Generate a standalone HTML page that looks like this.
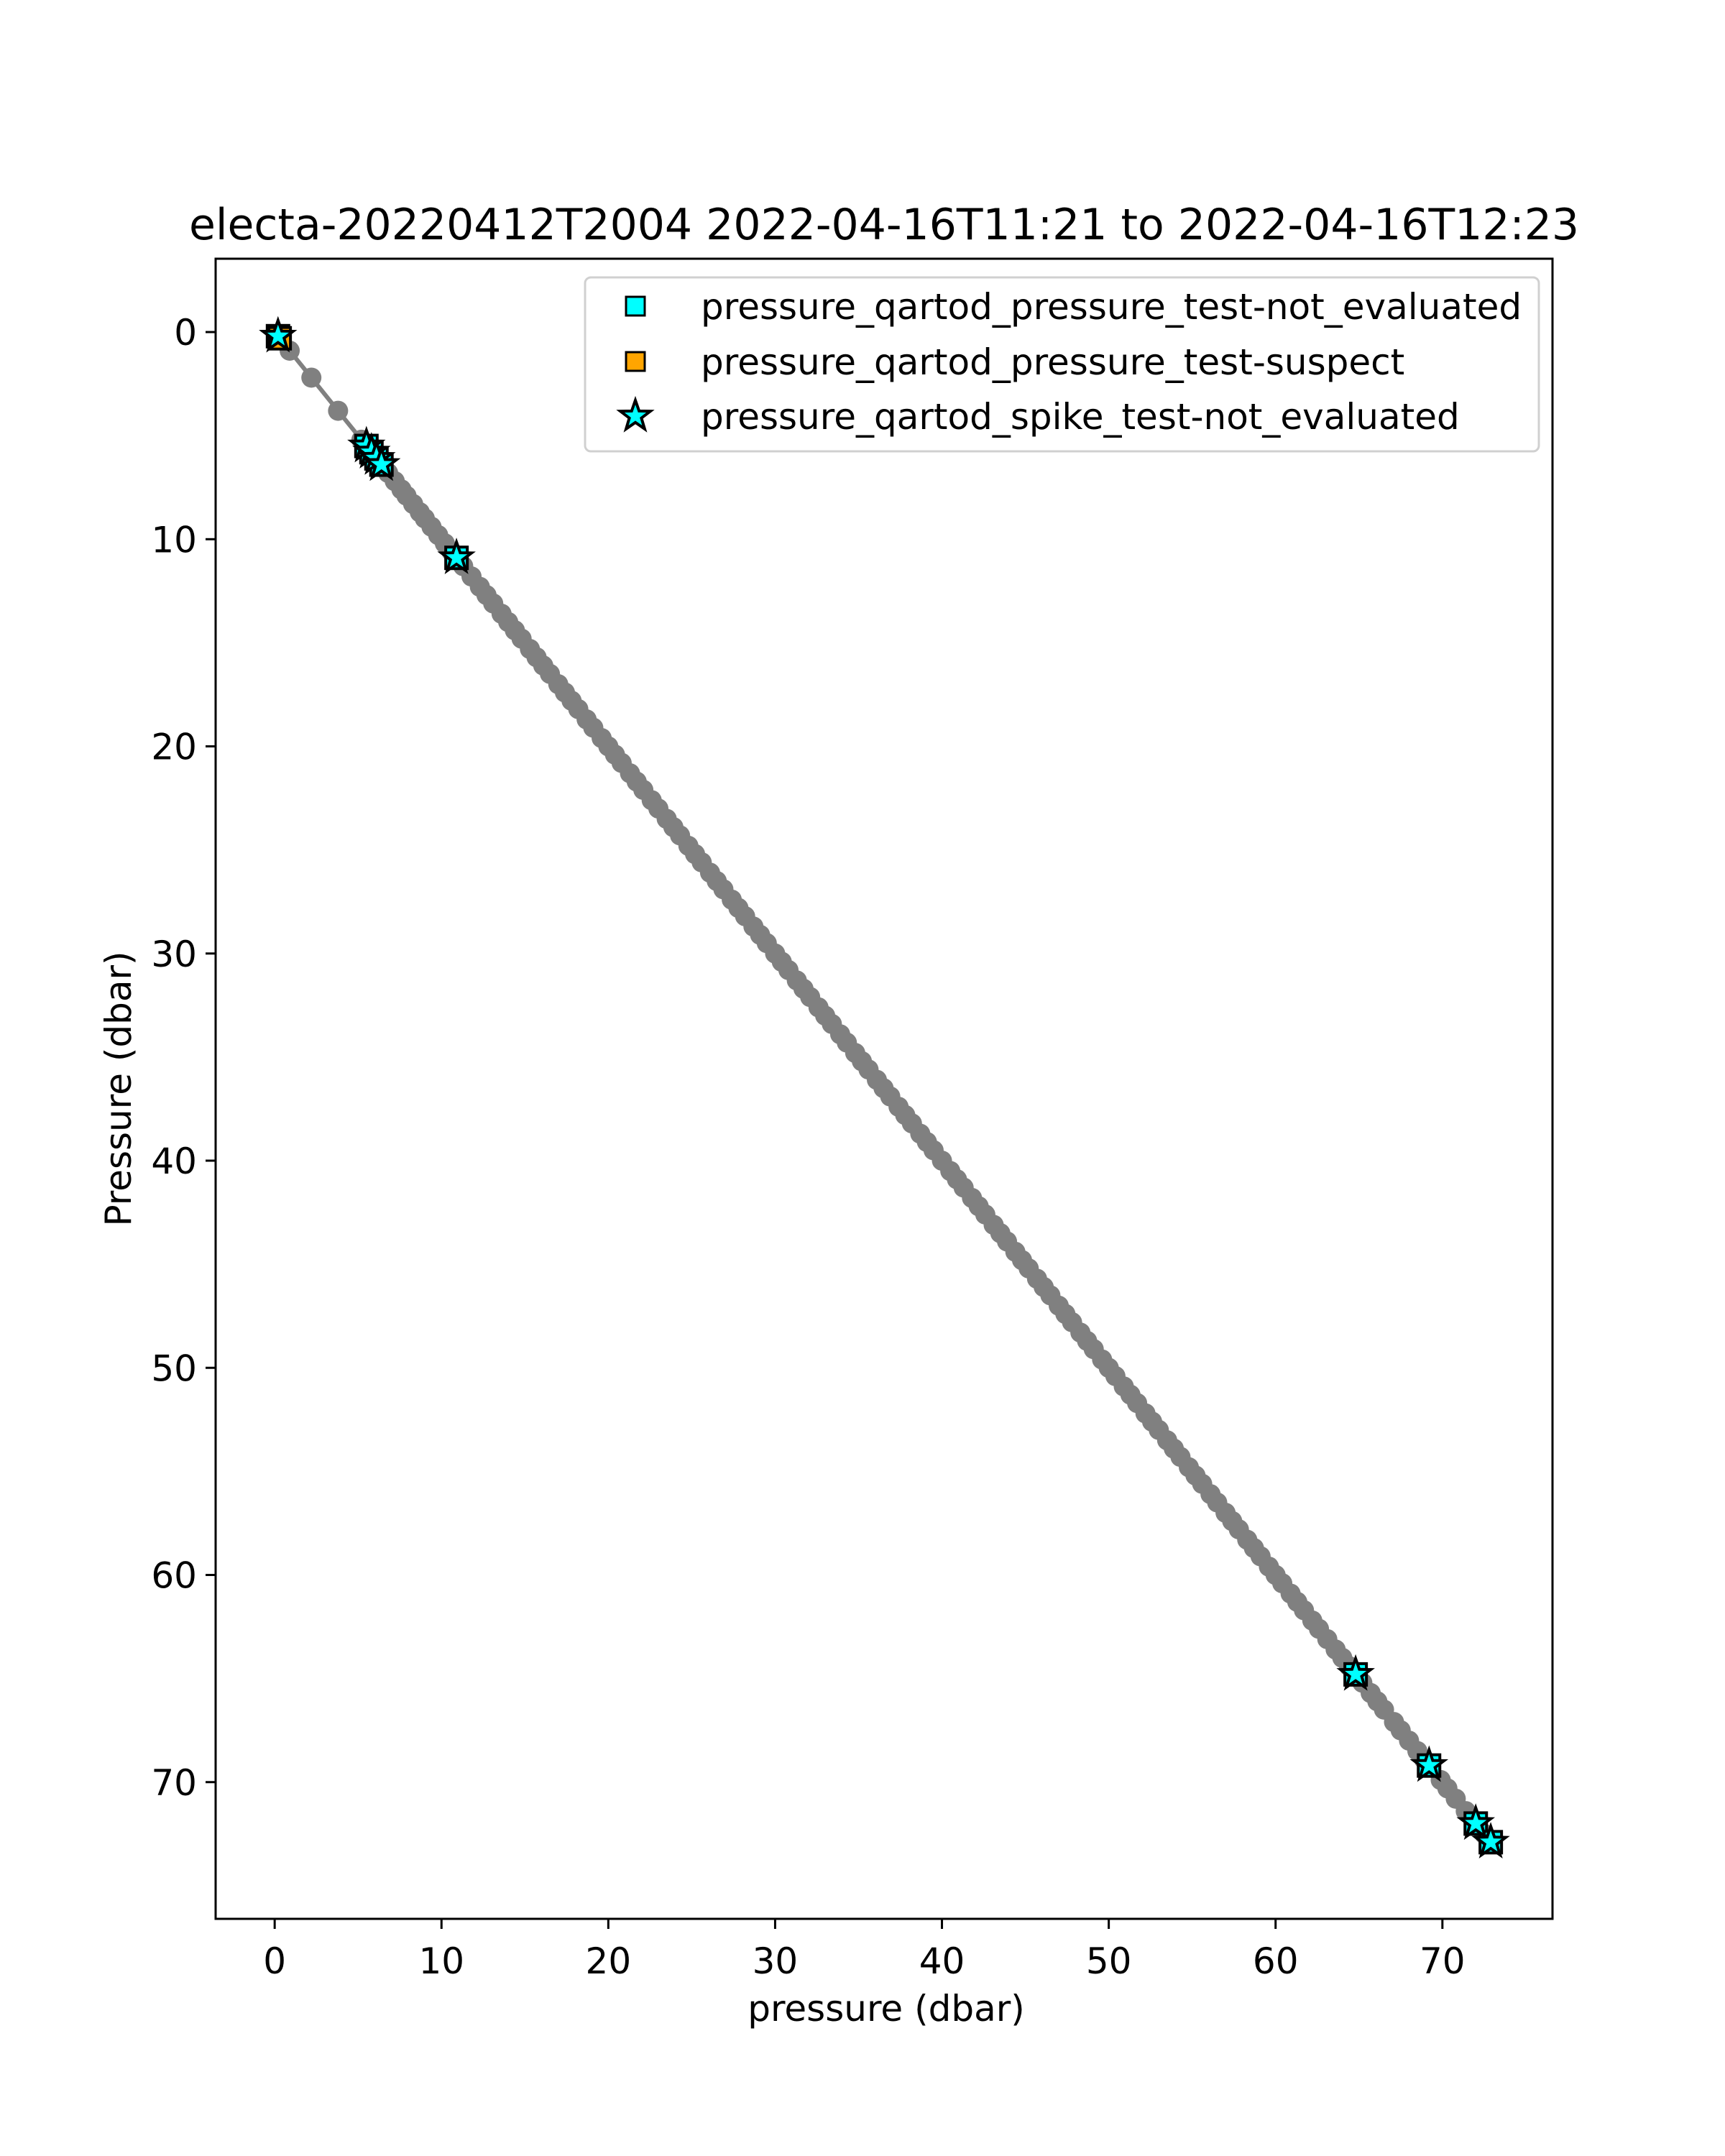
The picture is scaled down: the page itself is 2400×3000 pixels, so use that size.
<!DOCTYPE html>
<html><head><meta charset="utf-8"><style>
html,body{margin:0;padding:0;background:#fff;}
svg{display:block;font-family:"DejaVu Sans","Liberation Sans",sans-serif;}
</style></head><body>
<svg id="chart" width="2400" height="3000" viewBox="0 0 2400 3000" xmlns="http://www.w3.org/2000/svg">
<rect width="2400" height="3000" fill="#fff"/>
<text x="1230" y="333" font-size="60" text-anchor="middle">electa-20220412T2004 2022-04-16T11:21 to 2022-04-16T12:23</text>
<g id="plot"></g>
<g id="axes"></g>
<rect x="300" y="360" width="1860" height="2310" fill="none" stroke="#000" stroke-width="3"/>
<text x="1233" y="2812" font-size="50" text-anchor="middle">pressure (dbar)</text>
<text transform="translate(182,1515) rotate(-90)" font-size="50" text-anchor="middle">Pressure (dbar)</text>
<g id="legend">
<rect x="814" y="386" width="1327" height="242" rx="8" fill="#fff" fill-opacity="0.8" stroke="#d0d0d0" stroke-width="3"/>
<rect x="871" y="413" width="26" height="26" fill="#00ffff" stroke="#000" stroke-width="3"/>
<text x="975" y="444" font-size="50">pressure_qartod_pressure_test-not_evaluated</text>
<rect x="871" y="490" width="26" height="26" fill="#ffa500" stroke="#000" stroke-width="3"/>
<text x="975" y="521" font-size="50">pressure_qartod_pressure_test-suspect</text>
<g id="legstar"></g>
<text x="975" y="597" font-size="50">pressure_qartod_spike_test-not_evaluated</text>
</g>
</svg>
<script>
const profilePressure = [0.3,0.9,2.2,3.8,5.2,5.5,5.8,6.1,6.4,6.8,7.2,7.6,7.9,8.3,8.7,9.0,9.4,9.8,10.2,10.6,10.9,11.3,11.8,12.3,12.7,13.1,13.6,14.0,14.4,14.8,15.3,15.7,16.1,16.5,17.0,17.4,17.8,18.2,18.7,19.1,19.6,20.0,20.4,20.8,21.3,21.7,22.1,22.6,23.0,23.5,23.9,24.3,24.8,25.2,25.6,26.1,26.5,26.9,27.4,27.8,28.2,28.7,29.1,29.5,30.0,30.4,30.8,31.3,31.7,32.1,32.6,33.0,33.4,33.9,34.3,34.8,35.2,35.6,36.1,36.5,36.9,37.4,37.8,38.2,38.7,39.1,39.5,40.0,40.5,40.9,41.3,41.8,42.2,42.6,43.1,43.5,43.9,44.4,44.8,45.2,45.7,46.1,46.5,47.0,47.4,47.8,48.3,48.7,49.1,49.6,50.0,50.4,50.9,51.3,51.7,52.2,52.6,53.0,53.5,53.9,54.3,54.8,55.2,55.6,56.1,56.5,57.0,57.4,57.8,58.3,58.7,59.1,59.6,60.0,60.4,60.9,61.3,61.7,62.2,62.6,63.1,63.6,64.0,64.4,64.8,65.2,65.7,66.1,66.5,67.1,67.5,68.0,68.5,68.9,69.3,69.9,70.3,70.8,71.4,72.0,72.5,72.9];
const flagNotEvaluated = [0.2,5.5,5.8,6.1,6.4,10.9,64.8,69.2,72.0,72.9];
const flagSuspect = [0.3];
const spikeNotEvaluated = [0.2,5.5,5.8,6.1,6.4,10.9,64.8,69.2,72.0,72.9];
const xTicks = [0,10,20,30,40,50,60,70];
const yTicks = [0,10,20,30,40,50,60,70];

const NS="http://www.w3.org/2000/svg";
const X0=300,X1=2160,Y0=360,Y1=2670,DMIN=-3.54,DMAX=76.6;
const sx=v=>X0+(v-DMIN)/(DMAX-DMIN)*(X1-X0);
const sy=v=>Y0+(v-DMIN)/(DMAX-DMIN)*(Y1-Y0);
function mk(tag,attrs,parent){const e=document.createElementNS(NS,tag);for(const k in attrs)e.setAttribute(k,attrs[k]);parent.appendChild(e);return e;}
function starPts(cx,cy,R){const r=R*0.4;let p=[];for(let i=0;i<10;i++){const a=-Math.PI/2+i*Math.PI/5;const rr=i%2?r:R;p.push((cx+rr*Math.cos(a)).toFixed(1)+','+(cy+rr*Math.sin(a)).toFixed(1));}return p.join(' ');}
const plot=document.getElementById('plot');
const axes=document.getElementById('axes');

const line=mk('polyline',{points:profilePressure.map(v=>sx(v)+','+sy(v)).join(' '),fill:'none',stroke:'#808080','stroke-width':6},plot);


profilePressure.forEach(v=>{
  const c=mk('circle',{cx:sx(v),cy:sy(v),r:14,fill:'#808080'},plot);
  
  
});
flagNotEvaluated.forEach(v=>{
  const s=mk('rect',{x:sx(v)-15,y:sy(v)-15,width:30,height:30,fill:'#00ffff',stroke:'#000','stroke-width':4},plot);
  
  
});
flagSuspect.forEach(v=>{
  const s=mk('rect',{x:sx(v)-15,y:sy(v)-15,width:30,height:30,fill:'#ffa500',stroke:'#000','stroke-width':4},plot);
  
  
});
spikeNotEvaluated.forEach(v=>{
  const s=mk('polygon',{points:starPts(sx(v),sy(v),22),fill:'#00ffff',stroke:'#000','stroke-width':4,'stroke-linejoin':'miter'},plot);
  
  
});
xTicks.forEach(t=>{
  const l=mk('line',{x1:sx(t),x2:sx(t),y1:Y1,y2:Y1+14,stroke:'#000','stroke-width':3},axes);
  
  
  const tx=mk('text',{x:sx(t),y:Y1+76,'font-size':50,'text-anchor':'middle'},axes);
  tx.textContent=t;
  
  
});
yTicks.forEach(t=>{
  const l=mk('line',{x1:X0-14,x2:X0,y1:sy(t),y2:sy(t),stroke:'#000','stroke-width':3},axes);
  
  
  const tx=mk('text',{x:X0-26,y:sy(t)+18,'font-size':50,'text-anchor':'end'},axes);
  tx.textContent=t;
  
  
});
const ls=mk('polygon',{points:starPts(884,579,22),fill:'#00ffff',stroke:'#000','stroke-width':4},document.getElementById('legstar'));


</script>
</body></html>
